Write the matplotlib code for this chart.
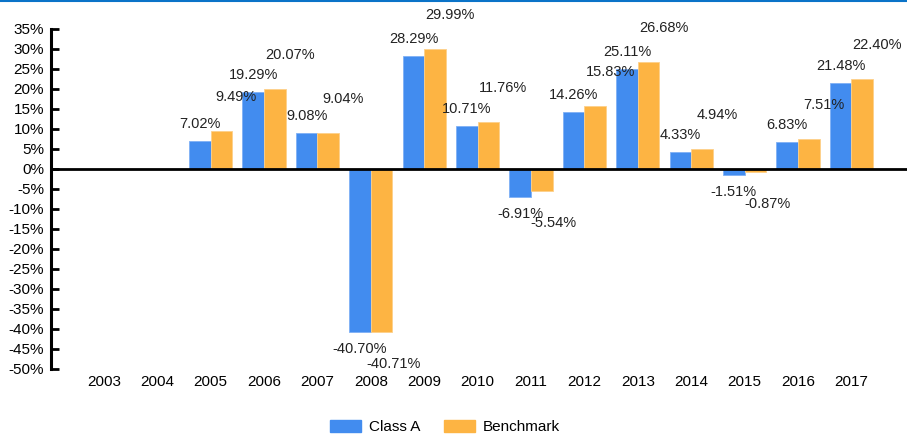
import numpy as np
import matplotlib.pyplot as plt
from matplotlib.lines import Line2D
from matplotlib.patches import Patch

plt.rcParams['font.family'] = ['Liberation Sans', 'DejaVu Sans']

# Annual returns (%)
years = ['2003', '2004', '2005', '2006', '2007', '2008', '2009', '2010',
         '2011', '2012', '2013', '2014', '2015', '2016', '2017']
class_a = [np.nan, np.nan, 7.02, 19.29, 9.08, -40.70, 28.29, 10.71,
           -6.91, 14.26, 25.11, 4.33, -1.51, 6.83, 21.48]
benchmark = [np.nan, np.nan, 9.49, 20.07, 9.04, -40.71, 29.99, 11.76,
             -5.54, 15.83, 26.68, 4.94, -0.87, 7.51, 22.40]

blue = '#428CEF'
orange = '#FDB443'

fig = plt.figure(figsize=(9.07, 4.34), dpi=100)
ax = fig.add_axes([51 / 907, 1 - 369 / 434, 1 - 51 / 907, 340 / 434])

x = np.arange(len(years))
w = 0.405
ax.bar(x - w / 2, class_a, w, color=blue, edgecolor='#7fb0f5', linewidth=0.6, zorder=2)
ax.bar(x + w / 2, benchmark, w, color=orange, edgecolor='#fdd08a', linewidth=0.6, zorder=2)

px = 0.72  # points per pixel
for xi, a, b in zip(x, class_a, benchmark):
    if not np.isnan(a):
        dy = 17 if a >= 0 else -17
        ax.annotate(f'{a:.2f}%', (xi - w / 2, a), xytext=(0, dy * px),
                    textcoords='offset points', ha='center', va='center',
                    fontsize=10.5, color='#222222', zorder=3)
    if not np.isnan(b):
        dy = 34 if b >= 0 else -32
        dx = 15 if b >= 0 else 12
        ax.annotate(f'{b:.2f}%', (xi + w / 2, b), xytext=(dx * px, dy * px),
                    textcoords='offset points', ha='center', va='center',
                    fontsize=10.5, color='#222222', zorder=3)

ax.axhline(0, color='black', linewidth=2, zorder=4)

ax.set_xlim(-0.99, 15.04)
ax.set_ylim(-50, 35)
ax.set_yticks(np.arange(-50, 36, 5))
ax.set_yticklabels([f'{v}%' for v in range(-50, 36, 5)])
ax.set_xticks(x)
ax.set_xticklabels(years)

for s in ['top', 'right', 'bottom']:
    ax.spines[s].set_visible(False)
ax.spines['left'].set_linewidth(2.2)
ax.spines['left'].set_color('black')
ax.tick_params(axis='y', direction='in', length=6, width=2, labelsize=11, pad=5)
ax.tick_params(axis='x', length=0, labelsize=11, pad=4)

handles = [Patch(color=blue, label='Class A'), Patch(color=orange, label='Benchmark')]
fig.legend(handles=handles, loc='center', bbox_to_anchor=(445 / 907, 1 - 427 / 434),
           ncol=2, frameon=False, fontsize=11, handlelength=2.0, handleheight=0.8,
           columnspacing=1.6, handletextpad=0.5)

# thin blue border on top
fig.add_artist(Line2D([0, 1], [0.998, 0.998], color='#0A73C8', linewidth=1.5,
                      transform=fig.transFigure))

fig.savefig('out.png', dpi=100)
